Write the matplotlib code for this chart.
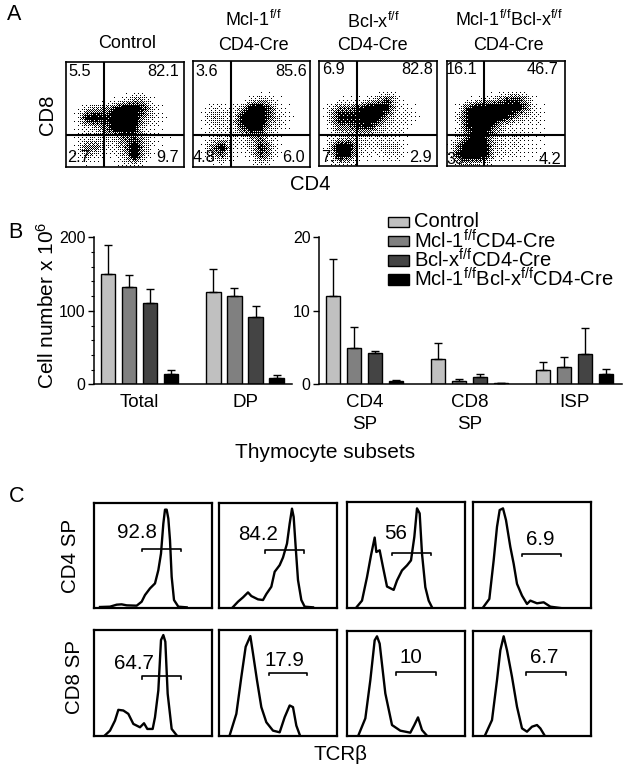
import numpy as np
import matplotlib
matplotlib.use('Agg')
import matplotlib.pyplot as plt
from matplotlib.patches import Rectangle

plt.rcParams['font.family'] = ['Liberation Sans', 'DejaVu Sans']
plt.rcParams['mathtext.fontset'] = 'custom'
plt.rcParams['mathtext.rm'] = 'Liberation Sans'
plt.rcParams['mathtext.default'] = 'rm'

W, H = 629, 773

# panel A: percentages and dot density (rows from upper part down, 0-9)
ctrl_pct = ['5.5', '82.1', '2.7', '9.7']
mcl_pct = ['3.6', '85.6', '4.8', '6.0']
bcl_pct = ['6.9', '82.8', '7.4', '2.9']
dko_pct = ['16.1', '46.7', '33', '4.2']

ctrl_dens = [[0, 0, 0, 0, 0, 0, 0, 0, 0, 0, 0, 0, 0],
             [0, 0, 0, 0, 0, 1, 3, 5, 4, 1, 0, 0, 0],
             [0, 1, 4, 5, 5, 8, 9, 9, 7, 3, 1, 0, 0],
             [0, 2, 8, 9, 7, 9, 9, 9, 5, 3, 2, 0, 0],
             [0, 1, 3, 4, 6, 9, 9, 8, 3, 2, 1, 0, 0],
             [0, 2, 3, 3, 4, 4, 6, 7, 4, 2, 1, 1, 0],
             [0, 2, 6, 6, 3, 3, 6, 9, 5, 2, 1, 0, 0],
             [0, 2, 4, 3, 1, 2, 4, 9, 4, 1, 0, 0, 0],
             [0, 0, 1, 1, 0, 1, 2, 2, 1, 0, 0, 0, 0]]
mcl_dens = [[0, 0, 0, 0, 0, 0, 0, 0, 0, 0, 0, 0, 0],
            [0, 0, 0, 0, 0, 0, 2, 4, 3, 1, 0, 0, 0],
            [0, 1, 3, 3, 2, 5, 9, 9, 6, 2, 1, 0, 0],
            [0, 2, 5, 4, 3, 8, 9, 9, 6, 3, 2, 0, 0],
            [0, 1, 3, 3, 3, 7, 9, 8, 4, 3, 1, 0, 0],
            [0, 1, 3, 3, 3, 3, 5, 6, 3, 1, 0, 0, 0],
            [0, 2, 6, 9, 3, 2, 4, 8, 5, 1, 0, 0, 0],
            [0, 1, 4, 6, 2, 1, 3, 7, 4, 1, 0, 0, 0],
            [0, 0, 1, 1, 0, 0, 1, 2, 1, 0, 0, 0, 0]]
bcl_dens = [[0, 0, 0, 0, 0, 0, 0, 0, 0, 0, 0, 0, 0],
            [0, 0, 1, 1, 1, 2, 4, 7, 3, 0, 0, 0, 0],
            [0, 3, 6, 6, 7, 9, 9, 8, 3, 2, 1, 0, 0],
            [0, 4, 8, 8, 8, 9, 9, 5, 3, 3, 2, 0, 0],
            [0, 2, 6, 6, 7, 8, 5, 3, 3, 2, 0, 0, 0],
            [0, 2, 3, 4, 4, 3, 3, 3, 2, 1, 0, 0, 0],
            [0, 4, 9, 9, 4, 3, 3, 4, 4, 1, 0, 0, 0],
            [0, 3, 8, 8, 3, 2, 2, 3, 3, 1, 0, 0, 0],
            [0, 1, 2, 2, 1, 0, 0, 1, 1, 0, 0, 0, 0]]
dko_dens = [[0, 0, 0, 0, 0, 0, 0, 0, 0, 0, 0, 0, 0],
            [0, 0, 1, 2, 3, 4, 6, 7, 5, 1, 0, 0, 0],
            [0, 2, 7, 9, 9, 9, 9, 9, 6, 2, 1, 0, 0],
            [0, 3, 8, 9, 9, 9, 8, 5, 3, 3, 1, 0, 0],
            [0, 2, 7, 9, 9, 6, 3, 2, 2, 2, 1, 0, 0],
            [0, 3, 6, 9, 7, 4, 3, 3, 2, 1, 1, 0, 0],
            [1, 6, 9, 9, 8, 4, 3, 3, 2, 2, 1, 0, 0],
            [1, 7, 9, 9, 8, 3, 3, 2, 2, 2, 1, 1, 0],
            [0, 2, 4, 3, 2, 1, 1, 1, 0, 0, 0, 0, 0]]

# panel B
series = ['Control', 'Mcl-1$^{f/f}$CD4-Cre', 'Bcl-x$^{f/f}$CD4-Cre', 'Mcl-1$^{f/f}$Bcl-x$^{f/f}$CD4-Cre']
colors = ['#c0c0c0', '#808080', '#444444', '#000000']
left_groups = ['Total', 'DP']
right_groups = ['CD4\nSP', 'CD8\nSP', 'ISP']
total_vals = [150, 132, 110, 14]
total_tops = [189, 149, 130, 20]
dp_vals = [126, 120, 92, 8]
dp_tops = [157, 131, 107, 12]
cd4_vals = [12.0, 5.0, 4.2, 0.4]
cd4_tops = [17.1, 7.8, 4.5, 0.55]
cd8_vals = [3.45, 0.5, 1.05, 0.12]
cd8_tops = [5.6, 0.77, 1.4, 0.15]
isp_vals = [1.95, 2.3, 4.1, 1.4]
isp_tops = [3.1, 3.75, 7.66, 2.1]

# panel C: histogram traces, channel against count
h1_x = [18, 48, 68, 83, 98, 128, 143, 153, 168, 183, 193, 201, 208, 213, 218, 223, 228, 233, 240, 253, 278]
h1_y = [3, 4, 10, 11, 8, 7, 19, 39, 59, 74, 114, 164, 254, 296, 296, 269, 204, 94, 24, 4, 2]
h2_x = [42, 57, 72, 87, 97, 117, 132, 142, 157, 167, 182, 192, 204, 212, 219, 224, 230, 237, 247, 257, 282]
h2_y = [3, 19, 32, 47, 36, 26, 24, 42, 64, 109, 129, 152, 194, 254, 299, 274, 184, 84, 24, 4, 2]
h3_x = [30, 45, 60, 72, 83, 88, 98, 108, 120, 140, 150, 165, 180, 192, 202, 210, 218, 225, 235, 245, 255]
h3_y = [4, 22, 92, 157, 210, 167, 172, 122, 64, 54, 82, 112, 127, 142, 212, 297, 282, 162, 62, 22, 2]
h4_x = [32, 49, 62, 72, 80, 90, 99, 112, 122, 132, 147, 162, 172, 192, 212, 232, 262]
h4_y = [4, 27, 142, 242, 292, 297, 262, 182, 132, 72, 37, 12, 22, 14, 17, 4, 0]
h5_x = [33, 48, 63, 73, 88, 103, 118, 138, 150, 160, 176, 183, 193, 201, 208, 214, 221, 233, 248]
h5_y = [2, 16, 46, 78, 76, 66, 36, 26, 38, 21, 21, 56, 136, 286, 301, 281, 126, 21, 2]
h6_x = [32, 52, 67, 80, 94, 102, 114, 127, 142, 162, 182, 197, 212, 222, 232, 242]
h6_y = [2, 66, 176, 266, 298, 246, 166, 86, 41, 16, 11, 56, 91, 86, 31, 4]
h7_x = [35, 55, 70, 83, 90, 98, 115, 135, 160, 190, 202, 213, 225, 238]
h7_y = [4, 53, 168, 288, 300, 278, 128, 33, 16, 10, 33, 56, 18, 3]
h8_x = [37, 57, 72, 82, 92, 102, 117, 132, 147, 162, 177, 192, 202, 214]
h8_y = [4, 48, 168, 258, 300, 258, 178, 88, 23, 13, 28, 33, 23, 3]
gate_labels = ['92.8', '84.2', '56', '6.9', '64.7', '17.9', '10', '6.7']


def box(x0, y0, x1, y1):
    return fig.add_axes([x0 / W, 1 - y1 / H, (x1 - x0) / W, (y1 - y0) / H])


def stipple(d, nx, ny):
    # density grid to single pixel dots, ordered dither so no random numbers are involved
    d = np.array(d, dtype=float)
    rows = np.array([np.interp(np.linspace(0, d.shape[1] - 1, nx), np.arange(d.shape[1]), r) for r in d])
    fine = np.array([np.interp(np.linspace(0, d.shape[0] - 1, ny), np.arange(d.shape[0]), c) for c in rows.T]).T
    bayer = np.array([[0]])
    for _ in range(3):
        bayer = np.block([[4 * bayer, 4 * bayer + 2], [4 * bayer + 3, 4 * bayer + 1]])
    thr = (bayer + 0.5) / 64
    tiled = np.tile(thr, (ny // 8 + 1, nx // 8 + 1))[:ny, :nx]
    return (fine / 8) ** 2 > tiled


fig = plt.figure(figsize=(W / 100, H / 100), dpi=100)

# --- A: dot plots
a_boxes = [(66, 62, 184, 167), (193, 61, 310, 167), (319, 61, 437, 166), (447, 61, 565, 166)]
a_gates = [(103.5, 135), (231, 134.5), (357, 135), (484, 135)]
a_dens = [ctrl_dens, mcl_dens, bcl_dens, dko_dens]
a_pct = [ctrl_pct, mcl_pct, bcl_pct, dko_pct]
a_txt = [[(80, 72), (163.5, 72), (78, 158), (168, 158)],
         [(207, 71), (291, 71), (204, 158), (293, 158)],
         [(333, 70), (417, 70), (332, 158), (420, 158)],
         [(462, 70), (543, 70), (455, 159), (550, 159)]]
for b, g, d, pct, pos in zip(a_boxes, a_gates, a_dens, a_pct, a_txt):
    ax = box(*b)
    top = b[1] + 3 * 9
    ax.imshow(stipple(d, b[2] - b[0], b[3] - top), cmap='gray_r', interpolation='nearest', aspect='auto',
              extent=(b[0], b[2], b[3], top))
    ax.set_xlim(b[0], b[2])
    ax.set_ylim(b[3], b[1])
    ax.axvline(g[0], c='k', lw=1.5)
    ax.axhline(g[1], c='k', lw=1.5)
    for s, (x, y) in zip(pct, pos):
        ax.text(x, y, s, ha='center', va='center', fontsize=11.7)
    ax.set_xticks([])
    ax.set_yticks([])
    for sp in ax.spines.values():
        sp.set_linewidth(1.2)

# --- B: bars
bar_w = 0.137
offs = np.array([-0.3, -0.1, 0.1, 0.3])


def draw_groups(ax, vals, tops):
    for i, (v, t) in enumerate(zip(vals, tops)):
        up = np.array(t) - np.array(v)
        for j in range(4):
            ax.bar(i + offs[j], v[j], bar_w, color=colors[j], edgecolor='k', lw=1.0)
            ax.errorbar(i + offs[j], v[j], yerr=[[0], [up[j]]], c='k', lw=1.0, capsize=2.9, capthick=1.0)
    for s in ['top', 'right']:
        ax.spines[s].set_visible(False)
    ax.spines['left'].set_linewidth(1.1)
    ax.spines['bottom'].set_linewidth(1.1)
    ax.tick_params(axis='x', length=0, pad=7, labelsize=13.5)
    ax.tick_params(axis='y', length=4, width=1.0, pad=2, labelsize=11.5)


ax = box(94, 237.3, 292, 384.3)
draw_groups(ax, [total_vals, dp_vals], [total_tops, dp_tops])
ax.set_xlim(-0.431, 1.445)
ax.set_ylim(0, 200)
ax.set_xticks(range(len(left_groups)))
ax.set_xticklabels(left_groups)
ax.set_yticks([0, 100, 200])
ax.set_yticks(range(20, 200, 20), minor=True)
ax.tick_params(axis='y', which='minor', length=2.5, width=0.8)

ax = box(319, 237.3, 621.7, 384.3)
draw_groups(ax, [cd4_vals, cd8_vals, isp_vals], [cd4_tops, cd8_tops, isp_tops])
ax.set_xlim(-0.431, 2.451)
ax.set_ylim(0, 20)
ax.set_xticks(range(len(right_groups)))
ax.set_xticklabels(right_groups, linespacing=1.4)
ax.set_yticks([0, 10, 20])

# --- C: histograms
c_boxes = [(94, 503, 212, 608), (219, 503, 337, 608), (347, 502, 465, 608), (473, 502, 591, 608),
           (94, 630, 212, 736), (219, 630, 337, 736), (347, 631, 465, 736), (473, 631, 591, 736)]
traces = [(h1_x, h1_y), (h2_x, h2_y), (h3_x, h3_y), (h4_x, h4_y),
          (h5_x, h5_y), (h6_x, h6_y), (h7_x, h7_y), (h8_x, h8_y)]
gates = [(143, 260, 179), (139, 255, 174), (135, 253, 165), (148, 265, 162),
         (143, 260, 179), (149, 265, 189), (148, 266, 193), (160, 278, 193)]
lab_pos = [(128, 226), (117, 221), (145, 222), (202, 204),
           (120, 216), (195, 225), (193, 235), (214, 235)]
for b, (hx, hy), g, s, p in zip(c_boxes, traces, gates, gate_labels, lab_pos):
    ax = box(*b)
    ax.plot(hx, hy, c='k', lw=1.7)
    ax.plot([g[0], g[0], g[1], g[1]], [g[2] - 8, g[2], g[2], g[2] - 8], c='k', lw=1.2)
    ax.text(p[0], p[1], s, ha='center', va='center', fontsize=14.8)
    ax.set_xlim(0, 354)
    ax.set_ylim(0, 316)
    ax.set_xticks([])
    ax.set_yticks([])
    for sp in ax.spines.values():
        sp.set_linewidth(1.6)

# --- page level text and legend, placed in pixels
pg = fig.add_axes([0, 0, 1, 1], zorder=5)
pg.set_xlim(0, W)
pg.set_ylim(H, 0)
pg.axis('off')
pg.text(7, 15, 'A', fontsize=15.5, va='center')
pg.text(8, 232, 'B', fontsize=15.5, va='center')
pg.text(9, 497, 'C', fontsize=15.5, va='center')

for x, y, s in [(127, 43, 'Control'), (253, 20, 'Mcl-1$^{f/f}$'), (253, 45, 'CD4-Cre'),
                (373, 22, 'Bcl-x$^{f/f}$'), (372, 46, 'CD4-Cre'),
                (509, 20, 'Mcl-1$^{f/f}$Bcl-x$^{f/f}$'), (508, 46, 'CD4-Cre')]:
    pg.text(x, y, s, ha='center', va='center', fontsize=13)
pg.text(47, 115, 'CD8', rotation=90, ha='center', va='center', fontsize=14.6)
pg.text(310, 184, 'CD4', ha='center', va='center', fontsize=14.6)
pg.text(47, 305, 'Cell number x 10$^{6}$', rotation=90, ha='center', va='center', fontsize=15)
pg.text(325, 452, 'Thymocyte subsets', ha='center', va='center', fontsize=15)
pg.text(71, 556, 'CD4 SP', rotation=90, ha='center', va='center', fontsize=14.8)
pg.text(74, 677, 'CD8 SP', rotation=90, ha='center', va='center', fontsize=14.8)
pg.text(340, 755, 'TCRβ', ha='center', va='center', fontsize=14.8)

for name, col, y in zip(series, colors, [221.5, 240.5, 260, 279]):
    pg.add_patch(Rectangle((387.5, y - 5), 21, 10.5, fc=col, ec='k', lw=1.0))
    pg.text(414, y, name, va='center', fontsize=14.5)

fig.savefig('out.png', dpi=100)
